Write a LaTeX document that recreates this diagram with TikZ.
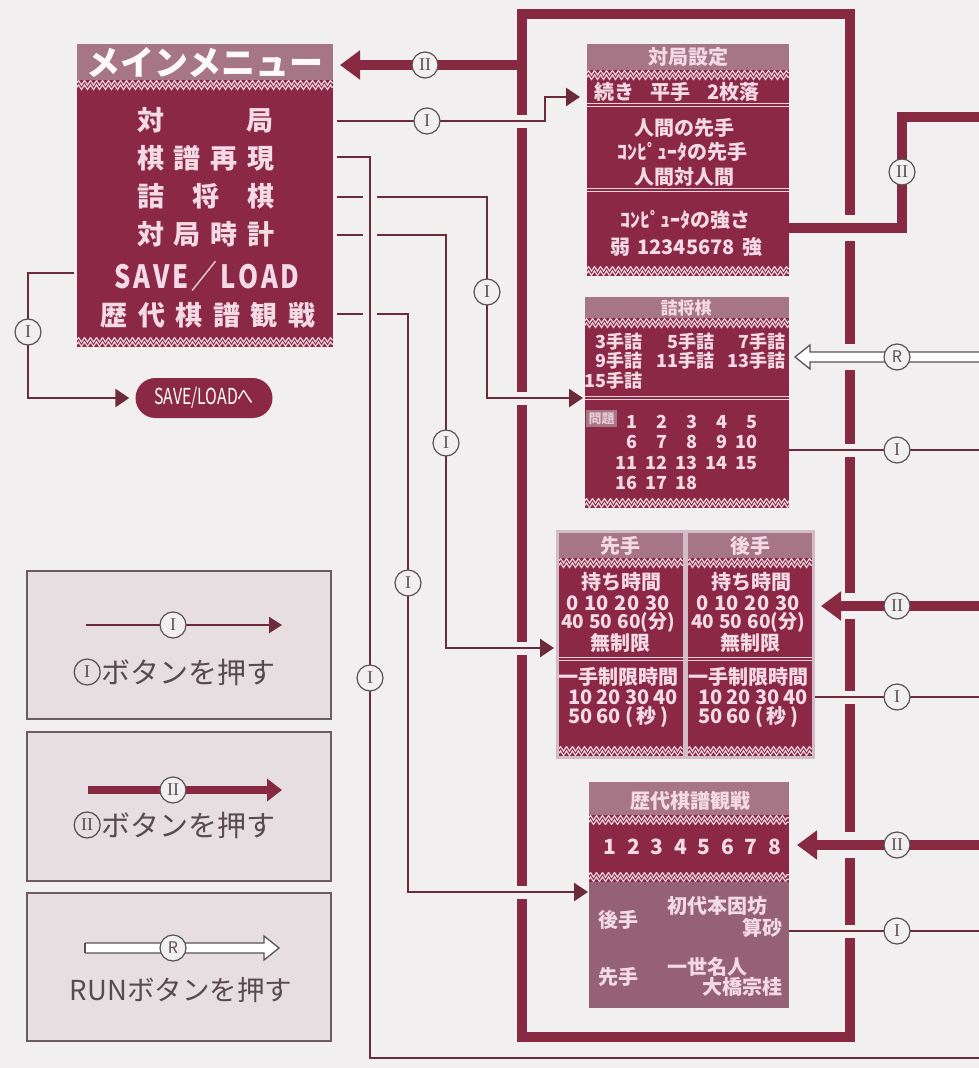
\documentclass[tikz,border=0pt]{standalone}
\usepackage{fontspec}
\setmainfont{Liberation Serif}
\newfontfamily\jp{Noto Sans CJK JP}
\newfontfamily\jpc{Noto Sans CJK JP}[FakeStretch=0.72]
\newfontfamily\jpn{Noto Sans CJK JP}[FakeStretch=0.8]
\usetikzlibrary{arrows.meta,decorations.pathmorphing,calc}
\definecolor{cBg}{HTML}{F1EFEF}
\definecolor{cMaroon}{HTML}{8A2846}
\definecolor{cMauve}{HTML}{A67686}
\definecolor{cLow}{HTML}{956174}
\definecolor{cThick}{HTML}{872940}
\definecolor{cThin}{HTML}{6B2B3B}
\definecolor{cText}{HTML}{F4DAE4}
\definecolor{cZig}{HTML}{EBD3DC}
\definecolor{cCirc}{HTML}{5A5155}
\definecolor{cOut}{HTML}{D2BCC5}
\definecolor{cLegFill}{HTML}{E6DEE1}
\definecolor{cLegDraw}{HTML}{6B5C62}
\definecolor{cLegText}{HTML}{594A50}
\newcommand{\fsz}[1]{\fontsize{#1}{#1}\selectfont}
\newcommand{\zz}[3]{%
  \fill[cMaroon] (#1,#3) rectangle (#2,#3+10);
  \begin{scope}
  \clip (#1,#3) rectangle (#2,#3+10);
  \draw[cZig, line width=1.2pt, decorate, decoration={zigzag,segment length=6pt,amplitude=2.3pt}] (#1,#3+2.8) -- (#2,#3+2.8);
  \draw[cZig, line width=1.2pt, decorate, decoration={zigzag,segment length=6pt,amplitude=2.3pt}] (#1,#3+7.2) -- (#2,#3+7.2);
  \end{scope}}
\newcommand{\dsep}[3]{%
  \draw[cZig, line width=0.9pt] (#1,#3-1.8) -- (#2,#3-1.8) (#1,#3+1.8) -- (#2,#3+1.8);}
% gap: x, y, width, height
\newcommand{\gapat}[4]{\fill[cBg] (#1-#3/2,#2-#4/2) rectangle (#1+#3/2,#2+#4/2);}
\newcommand{\openarr}[3]{%
  \fill[white] ($(#1)+(0,-5)$) -- ($(#2)+(#3*15,-5)$) -- ($(#2)+(#3*15,-12)$) -- (#2) -- ($(#2)+(#3*15,12)$) -- ($(#2)+(#3*15,5)$) -- ($(#1)+(0,5)$) -- cycle;
  \draw[cCirc, line width=1.3pt] ($(#1)+(0,-5)$) -- ($(#2)+(#3*15,-5)$) -- ($(#2)+(#3*15,-12)$) -- (#2) -- ($(#2)+(#3*15,12)$) -- ($(#2)+(#3*15,5)$) -- ($(#1)+(0,5)$);}
\tikzset{
  thinln/.style={draw=cThin, line width=2.6pt},
  thinarr/.style={thinln, -{Triangle[length=14pt,width=18pt]}},
  thickln/.style={draw=cThick, line width=10pt},
  thickarr/.style={thickln, -{Triangle[length=20pt,width=28pt]}},
  lab/.style={circle, draw=cCirc, fill=cBg, line width=1.2pt, inner sep=0pt, minimum size=26pt, text=cCirc, font=\fsz{18}},
  ptx/.style={text=cText, inner sep=0pt, font={\jp\bfseries\fsz{20}}},
  ptxs/.style={text=cText, inner sep=0pt, font={\jp\bfseries\fsz{18}}},
  mtx/.style={text=cText, inner sep=0pt, font={\jp\bfseries\fsz{27}}},
  legbox/.style={draw=cLegDraw, fill=cLegFill, line width=1.5pt},
  legtxt/.style={text=cLegText, inner sep=0pt, font={\jp\fsz{29}}},
  legcirc/.style={circle, draw=cLegText, line width=1.2pt, inner sep=0pt, minimum size=26pt, text=cLegText, font=\fsz{18}},
  anchorbox/.style={inner sep=0pt, anchor=north west}
}
\begin{document}
\begin{tikzpicture}[x=1pt,y=-1pt]
\useasboundingbox (0,0) rectangle (979,1068);
\fill[cBg] (0,0) rectangle (979,1068);

% ---------- legend ----------
\draw[legbox] (27,571) rectangle (331,719);
\draw[legbox] (27,732) rectangle (331,881);
\draw[legbox] (27,893) rectangle (331,1041);
\coordinate (la1) at (86,625); \coordinate (lb1) at (282,625);
\draw[draw=cThin, line width=2.4pt, -{Triangle[length=13pt,width=16pt]}] (la1) -- (lb1);
\node[lab] at (173,625) {I};
\node[legtxt] (lt1) at (188,672) {ボタンを押す};
\node[legcirc, anchor=east] at (lt1.west) {I};
\coordinate (la2) at (88,790); \coordinate (lb2) at (282,790);
\draw[draw=cThick, line width=8.5pt, -{Triangle[length=15pt,width=22pt]}] (la2) -- (lb2);
\node[lab] at (173,790) {II};
\node[legtxt] (lt2) at (188,825) {ボタンを押す};
\node[legcirc, anchor=east] at (lt2.west) {II};
\coordinate (la3) at (85,948); \coordinate (lb3) at (279,948);
\openarr{la3}{lb3}{-1}
\draw[cCirc, line width=1.3pt] ($(la3)+(0,-5)$) -- ($(la3)+(0,5)$);
\node[lab, font={\jp\fsz{16}}] at (173,948) {R};
\node[legtxt, font={\jp\fsz{27.5}}] (lt3) at (181,990) {RUNボタンを押す};

% ---------- frame ----------
\coordinate (fTL) at (522,14); \coordinate (fBR) at (850,1037);
\draw[thickln] (fTL) rectangle (fBR);
% gaps where connectors cross the frame
\gapat{522}{121}{16}{13}
\gapat{522}{398}{16}{13}
\gapat{522}{648}{16}{13}
\gapat{522}{892}{16}{13}
\gapat{850}{228}{16}{26}
\gapat{850}{357}{16}{26}
\gapat{850}{450}{16}{13}
\gapat{850}{606}{16}{26}
\gapat{850}{697}{16}{13}
\gapat{850}{845}{16}{26}
\gapat{850}{931}{16}{13}

% ---------- main menu ----------
\node[anchorbox, minimum width=256pt, minimum height=304pt] (menu) at (77,44) {};
\fill[cMauve] (77,44) rectangle (333,80);
\fill[cMaroon] (77,90) rectangle (333,337);
\zz{77}{333}{80}
\zz{77}{333}{337}
\node[text=white!80!cText, inner sep=0pt, font={\jp\bfseries\fsz{34}}] (mtitle) at (205,62) {メインメニュー};
\node[mtx] (m1) at (205,120) {\makebox[136pt][s]{対\hfil 局}};
\node[mtx] (m2) at (206,158) {\makebox[138pt][s]{棋\hfil 譜\hfil 再\hfil 現}};
\node[mtx] (m3) at (206,196) {\makebox[138pt][s]{詰\hfil 将\hfil 棋}};
\node[mtx] (m4) at (206,234) {\makebox[138pt][s]{対\hfil 局\hfil 時\hfil 計}};
\node[mtx, font={\jpn\bfseries\fsz{32}}] (m5) at (207,276) {\makebox[185pt][s]{S\hfil A\hfil V\hfil E\hfil ／\hfil L\hfil O\hfil A\hfil D}};
\node[mtx] (m6) at (208,315) {\makebox[215pt][s]{歴\hfil 代\hfil 棋\hfil 譜\hfil 観\hfil 戦}};

% SAVE/LOAD pill
\node[fill=cMaroon, text=white, rounded corners=20pt, minimum width=137pt, minimum height=40pt, inner sep=0pt, font={\jpc\fsz{22}}] (sl) at (204,398) {SAVE/LOADへ};

% ---------- panel 1: 対局設定 ----------
\node[anchorbox, minimum width=202pt, minimum height=232pt] (p1) at (587,44) {};
\fill[cMaroon] (587,44) rectangle (789,276);
\fill[cMauve] (587,44) rectangle (789,70);
\zz{587}{789}{70}
\dsep{587}{789}{105}
\dsep{587}{789}{190}
\zz{587}{789}{266}
\node[ptx] at (688,57) {対局設定};
\node[ptx] at (677,92) {\makebox[165pt][s]{続き\hfil 平手\hfil 2枚落}};
\node[ptx] at (684,128) {人間の先手};
\node[ptx] at (682,152) {ｺﾝﾋﾟｭｰﾀの先手};
\node[ptx] at (684,177) {人間対人間};
\node[ptx] at (685,220) {ｺﾝﾋﾟｭｰﾀの強さ};
\node[ptx] at (686,247) {\makebox[152pt][s]{弱\hfil 12345678\hfil 強}};

% ---------- panel 2: 詰将棋 ----------
\node[anchorbox, minimum width=204pt, minimum height=211pt] (p2) at (585,297) {};
\fill[cMaroon] (585,297) rectangle (789,508);
\fill[cMauve] (585,297) rectangle (789,318);
\zz{585}{789}{318}
\dsep{585}{789}{398}
\zz{585}{789}{498}
\node[ptxs, font={\jp\bfseries\fsz{17}}] at (686,308) {詰将棋};
\node[ptxs, anchor=east] at (643,342) {3手詰};
\node[ptxs, anchor=east] at (715,342) {5手詰};
\node[ptxs, anchor=east] at (786,342) {7手詰};
\node[ptxs, anchor=east] at (643,361) {9手詰};
\node[ptxs, anchor=east] at (715,361) {11手詰};
\node[ptxs, anchor=east] at (786,361) {13手詰};
\node[ptxs, anchor=east] at (643,381) {15手詰};
\fill[cMauve] (586,410) rectangle (617,427);
\node[text=cText!85!cMauve, inner sep=0pt, font={\jp\bfseries\fsz{13}}] at (601.5,418.5) {問題};
\foreach \n in {1,...,18}{
  \pgfmathtruncatemacro{\pcol}{mod(\n-1,5)}
  \pgfmathtruncatemacro{\prow}{(\n-1)/5}
  \node[ptxs, anchor=east] at (638+30*\pcol, 422+20.3*\prow) {\n};
}

% ---------- panel 3: 先手 / 後手 ----------
\node[anchorbox, minimum width=259pt, minimum height=229pt] (p3) at (556,530) {};
\fill[cOut] (556,530) rectangle (815,759);
\foreach \xa/\xb/\dx/\ti in {559/683/0/先手, 688/812/130/後手}{
  \fill[cMaroon] (\xa,533) rectangle (\xb,756);
  \fill[cMauve] (\xa,533) rectangle (\xb,558);
  \zz{\xa}{\xb}{558}
  \dsep{\xa}{\xb}{659}
  \zz{\xa}{\xb}{746}
  \node[ptx] at (620+\dx,546) {\ti};
  \node[ptx] at (621+\dx,582) {持ち時間};
  \node[ptx] at (618+\dx,603) {\makebox[103pt][s]{0\hfil 10\hfil 20\hfil 30}};
  \node[ptx, font={\jp\bfseries\fsz{19}}] at (618+\dx,622) {40\hspace{5pt}50\hspace{5pt}60(分)};
  \node[ptx] at (620+\dx,643) {無制限};
  \node[ptx] at (618+\dx,677) {一手制限時間};
  \node[ptx] at (623+\dx,697) {\makebox[110pt][s]{10\hfil 20\hfil 30\hfil 40}};
  \node[ptx] at (618+\dx,717) {\makebox[100pt][s]{50\hfil 60\hfil (\,秒\,)}};
}

% ---------- panel 4: 歴代棋譜観戦 ----------
\node[anchorbox, minimum width=200pt, minimum height=226pt] (p4) at (589,782) {};
\fill[cMauve] (589,782) rectangle (789,815);
\zz{589}{789}{815}
\fill[cMaroon] (589,825) rectangle (789,872);
\zz{589}{789}{872}
\fill[cLow] (589,882) rectangle (789,1008);
\node[ptx] at (690,801) {歴代棋譜観戦};
\foreach \n in {1,...,8}{
  \node[ptx, font={\jp\bfseries\fsz{21}}] at (610+23.5*\n-23.5,847) {\n};
}
\node[ptx] at (618,920) {後手};
\node[ptx] at (717,906) {初代本因坊};
\node[ptx, anchor=east] at (783,928) {算砂};
\node[ptx] at (618,977) {先手};
\node[ptx] at (707,967) {一世名人};
\node[ptx, anchor=east] at (783,987) {大橋宗桂};

% ---------- connectors ----------
\coordinate (s0) at (522,65); \coordinate (e0) at (340,65);
\draw[thickarr] (s0) -- (e0);
\coordinate (s1) at (337,121); \coordinate (c1a) at (545,121); \coordinate (c1b) at (545,97); \coordinate (e1) at (580,97);
\draw[thinarr] (s1) -- (c1a) -- (c1b) -- (e1);
\coordinate (s3) at (337,197); \coordinate (c3a) at (487,197); \coordinate (c3b) at (487,398); \coordinate (e3) at (583,398);
\draw[thinarr] (s3) -- (c3a) -- (c3b) -- (e3);
\coordinate (s4) at (337,235); \coordinate (c4a) at (446,235); \coordinate (c4b) at (446,648); \coordinate (e4) at (554,648);
\draw[thinarr] (s4) -- (c4a) -- (c4b) -- (e4);
\coordinate (s5) at (337,314); \coordinate (c5a) at (408,314); \coordinate (c5b) at (408,892); \coordinate (e5) at (588,892);
\draw[thinarr] (s5) -- (c5a) -- (c5b) -- (e5);
% gaps where the 棋譜再現 line crosses
\gapat{370}{197}{14}{6}
\gapat{370}{235}{14}{6}
\gapat{370}{314}{14}{6}
\coordinate (s2) at (337,157); \coordinate (c2a) at (370,157); \coordinate (c2b) at (370,1058); \coordinate (e2) at (979,1058);
\draw[thinln] (s2) -- (c2a) -- (c2b) -- (e2);
\coordinate (s6) at (74,273); \coordinate (c6a) at (28,273); \coordinate (c6b) at (28,398);
\draw[thinarr, shorten >=6pt] (s6) -- (c6a) -- (c6b) -- (sl.west);

\coordinate (s7) at (789,228); \coordinate (c7a) at (902,228); \coordinate (c7b) at (902,117); \coordinate (e7) at (979,117);
\draw[thickln] (s7) -- (c7a) -- (c7b) -- (e7);
\coordinate (rS) at (979,357); \coordinate (rT) at (795,357);
\openarr{rS}{rT}{1}
\coordinate (s8) at (789,450); \coordinate (e8) at (979,450);
\draw[thinln] (s8) -- (e8);
\coordinate (s9) at (979,606); \coordinate (e9) at (821,606);
\draw[thickarr] (s9) -- (e9);
\coordinate (s10) at (815,697); \coordinate (e10) at (979,697);
\draw[thinln] (s10) -- (e10);
\coordinate (s11) at (979,845); \coordinate (e11) at (797,845);
\draw[thickarr] (s11) -- (e11);
\coordinate (s12) at (789,931); \coordinate (e12) at (979,931);
\draw[thinln] (s12) -- (e12);

% ---------- labels ----------
\node[lab] at (425,65) {II};
\node[lab] at (427,121) {I};
\node[lab] at (487,292) {I};
\node[lab] at (446,443) {I};
\node[lab] at (408,583) {I};
\node[lab] at (370,678) {I};
\node[lab] at (28,332) {I};
\node[lab] at (902,172) {II};
\node[lab, font={\jp\fsz{16}}] at (897,357) {R};
\node[lab] at (897,450) {I};
\node[lab] at (897,606) {II};
\node[lab] at (897,697) {I};
\node[lab] at (897,845) {II};
\node[lab] at (897,931) {I};
\end{tikzpicture}
\end{document}
